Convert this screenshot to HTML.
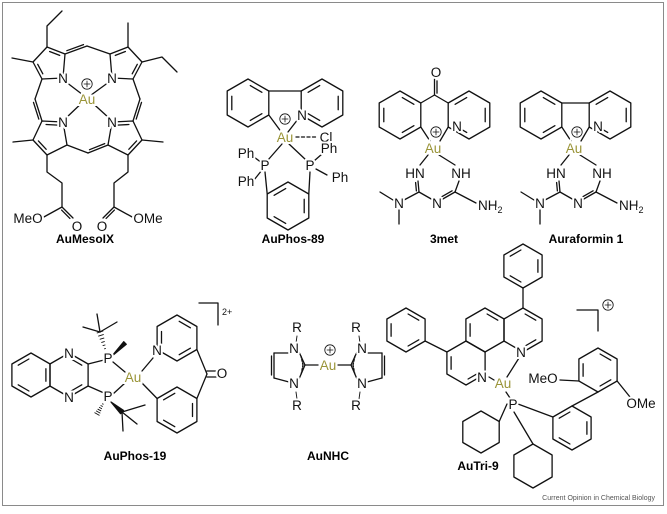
<!DOCTYPE html>
<html><head><meta charset="utf-8">
<style>
html,body{margin:0;padding:0;background:#fff;}
svg{display:block;}
text{font-family:"Liberation Sans",Arial,sans-serif;}
.a{font-size:13.5px;fill:#111;stroke:#fff;stroke-width:4px;paint-order:stroke;stroke-linejoin:round;}
.au{font-size:13.5px;fill:#9a9438;stroke:#fff;stroke-width:4px;paint-order:stroke;}
.lb{font-size:12px;font-weight:bold;fill:#000;}
.sm{font-size:9px;fill:#111;}
</style></head><body>
<svg id="s" width="667" height="514" viewBox="0 0 667 514" xmlns="http://www.w3.org/2000/svg">
<rect x="2.5" y="2.5" width="661" height="503" fill="#fff" stroke="#8a8a8a" stroke-width="1"/>
<g id="b" stroke="#111" stroke-width="1.3" fill="none" stroke-linecap="round" stroke-linejoin="round"></g>
<g id="t">
<text class="a" x="63" y="83" text-anchor="middle">N</text>
<text class="a" x="112" y="83" text-anchor="middle">N</text>
<text class="a" x="63" y="127" text-anchor="middle">N</text>
<text class="a" x="112" y="127" text-anchor="middle">N</text>
<text class="au" x="87" y="104" text-anchor="middle">Au</text>
<text class="a" x="28" y="223" text-anchor="middle">MeO</text>
<text class="a" x="77" y="231" text-anchor="middle">O</text>
<text class="a" x="102" y="231" text-anchor="middle">O</text>
<text class="a" x="148" y="223" text-anchor="middle">OMe</text>
<text class="lb" x="85" y="243" text-anchor="middle">AuMesoIX</text>
<text class="a" x="302" y="120" text-anchor="middle">N</text>
<text class="au" x="285" y="142" text-anchor="middle">Au</text>
<text class="a" x="326" y="142" text-anchor="middle">Cl</text>
<text class="a" x="265" y="170" text-anchor="middle">P</text>
<text class="a" x="310" y="170" text-anchor="middle">P</text>
<text class="a" x="246" y="158" text-anchor="middle">Ph</text>
<text class="a" x="246" y="186" text-anchor="middle">Ph</text>
<text class="a" x="329" y="153" text-anchor="middle">Ph</text>
<text class="a" x="340" y="182" text-anchor="middle">Ph</text>
<text class="lb" x="293" y="243" text-anchor="middle">AuPhos-89</text>
<text class="a" x="436" y="77" text-anchor="middle">O</text>
<text class="a" x="457" y="131" text-anchor="middle">N</text>
<text class="au" x="433" y="153" text-anchor="middle">Au</text>
<text class="a" x="415" y="178" text-anchor="middle">HN</text>
<text class="a" x="461" y="178" text-anchor="middle">NH</text>
<text class="a" x="437" y="208" text-anchor="middle">N</text>
<text class="a" x="399" y="208" text-anchor="middle">N</text>
<text class="a" x="482" y="210" text-anchor="start" dx="-4">NH<tspan font-size="9" dy="3">2</tspan></text>
<text class="lb" x="444" y="243" text-anchor="middle">3met</text>
<text class="a" x="598" y="131" text-anchor="middle">N</text>
<text class="au" x="574" y="153" text-anchor="middle">Au</text>
<text class="a" x="556" y="178" text-anchor="middle">HN</text>
<text class="a" x="602" y="178" text-anchor="middle">NH</text>
<text class="a" x="578" y="208" text-anchor="middle">N</text>
<text class="a" x="540" y="208" text-anchor="middle">N</text>
<text class="a" x="623" y="210" text-anchor="start" dx="-4">NH<tspan font-size="9" dy="3">2</tspan></text>
<text class="lb" x="586" y="243" text-anchor="middle">Auraformin 1</text>
<text class="a" x="69" y="358" text-anchor="middle">N</text>
<text class="a" x="69" y="402" text-anchor="middle">N</text>
<text class="a" x="108" y="363" text-anchor="middle">P</text>
<text class="a" x="108" y="401" text-anchor="middle">P</text>
<text class="au" x="133" y="382" text-anchor="middle">Au</text>
<text class="a" x="157" y="355" text-anchor="middle">N</text>
<text class="a" x="222" y="378" text-anchor="middle">O</text>
<text class="sm" x="222" y="315">2+</text>
<text class="lb" x="135" y="460" text-anchor="middle">AuPhos-19</text>
<text class="a" x="297" y="332" text-anchor="middle">R</text>
<text class="a" x="297" y="410" text-anchor="middle">R</text>
<text class="a" x="356" y="332" text-anchor="middle">R</text>
<text class="a" x="356" y="410" text-anchor="middle">R</text>
<text class="a" x="294" y="353" text-anchor="middle">N</text>
<text class="a" x="294" y="388" text-anchor="middle">N</text>
<text class="a" x="362" y="353" text-anchor="middle">N</text>
<text class="a" x="362" y="388" text-anchor="middle">N</text>
<text class="au" x="328" y="370" text-anchor="middle">Au</text>
<text class="lb" x="328" y="460" text-anchor="middle">AuNHC</text>
<text class="a" x="521" y="357" text-anchor="middle">N</text>
<text class="a" x="482" y="382" text-anchor="middle">N</text>
<text class="au" x="503" y="388" text-anchor="middle">Au</text>
<text class="a" x="513" y="409" text-anchor="middle">P</text>
<text class="a" x="543" y="383" text-anchor="middle">MeO</text>
<text class="a" x="641" y="408" text-anchor="middle">OMe</text>
<text class="lb" x="478" y="470" text-anchor="middle">AuTri-9</text>
<text x="655" y="500" text-anchor="end" font-size="7" fill="#555">Current Opinion in Chemical Biology</text>
</g>
</svg>
<script>
(function(){
var B=[];
function L(a,b,c,d,ex){B.push('<line x1="'+a.toFixed(1)+'" y1="'+b.toFixed(1)+'" x2="'+c.toFixed(1)+'" y2="'+d.toFixed(1)+'"'+(ex||'')+'/>');}
function PL(p){var s=p.map(function(q){return q[0].toFixed(1)+','+q[1].toFixed(1)}).join(' ');B.push('<polyline points="'+s+'"/>');}
function inner(p,q,c,f,t){f=f||0.78;t=t||0.14;
 var a=[c[0]+(p[0]-c[0])*f,c[1]+(p[1]-c[1])*f],b=[c[0]+(q[0]-c[0])*f,c[1]+(q[1]-c[1])*f];
 var dx=b[0]-a[0],dy=b[1]-a[1];L(a[0]+dx*t,a[1]+dy*t,b[0]-dx*t,b[1]-dy*t);}
function ring(pts,dbl){var n=pts.length,cx=0,cy=0;pts.forEach(function(p){cx+=p[0];cy+=p[1]});cx/=n;cy/=n;
 B.push('<polygon points="'+pts.map(function(q){return q[0].toFixed(1)+','+q[1].toFixed(1)}).join(' ')+'"/>');
 (dbl||[]).forEach(function(i){inner(pts[i],pts[(i+1)%n],[cx,cy]);});return pts;}
function hex(cx,cy,r,dbl,rot){rot=rot||0;var p=[];for(var k=0;k<6;k++){var a=(-90+60*k+rot)*Math.PI/180;p.push([cx+r*Math.cos(a),cy+r*Math.sin(a)]);}return ring(p,dbl);}
function D(a,b,c,d,o){
 L(a,b,c,d);var dx=c-a,dy=d-b,l=Math.hypot(dx,dy),nx=-dy/l*o,ny=dx/l*o;
 L(a+nx+dx*0.12,b+ny+dy*0.12,c+nx-dx*0.12,d+ny-dy*0.12);}
function circ(x,y){B.push('<circle cx="'+x+'" cy="'+y+'" r="5.2" stroke-width="0.8"/>');L(x-3,y,x+3,y,' stroke-width="0.8"');L(x,y-3,x,y+3,' stroke-width="0.8"');}
function hash(a,b,c,d,w){var n=6;for(var i=1;i<=n;i++){var t=i/n,x=a+(c-a)*t,y=b+(d-b)*t,dx=c-a,dy=d-b,l=Math.hypot(dx,dy),hw=w*t;L(x-dy/l*hw,y+dx/l*hw,x+dy/l*hw,y-dx/l*hw,' stroke-width="0.9"');}}
function wedge(a,b,c,d,w){var dx=c-a,dy=d-b,l=Math.hypot(dx,dy),nx=-dy/l*w,ny=dx/l*w;B.push('<polygon fill="#111" points="'+a+','+b+' '+(c+nx)+','+(d+ny)+' '+(c-nx)+','+(d-ny)+'"/>');}

function pyr(N,A1,B1,B2,A2,dblIdx){var p=[N,A1,B1,B2,A2];ring(p,dblIdx);return p;}
pyr([63,78],[65,54],[47,47],[33,62],[42,79],[1,3]);
pyr([112,78],[110,54],[128,47],[142,62],[133,79],[1,3]);
pyr([63,122],[67,145],[47,155],[33,140],[42,121],[2,4]);
pyr([112,122],[108,145],[128,155],[142,140],[133,121],[2,4]);
D(65,54,87,46,-2.5);L(87,46,110,54);
L(42,79,35,99);D(35,99,42,121,2.5);
L(133,79,140,99);D(140,99,133,121,-2.5);
L(67,145,88,153);D(88,153,108,145,-2.5);
L(87,98,66,82);L(87,98,109,82);L(87,98,66,118);L(87,98,109,118);
circ(87,84);
PL([[47,47],[47,26],[62,11]]);L(33,62,12,58);
L(128,47,128,23);PL([[142,62],[162,57],[177,72]]);
L(33,140,13,142);L(142,140,163,142);
PL([[47,155],[47,172],[62,183],[62,207],[42,218]]);D(62,207,73,218,2.5);
PL([[128,155],[128,172],[114,183],[114,207],[134,218]]);D(114,207,103,218,-2.5);

var b1=hex(248,103,24,[0,2,4]);var py=hex(322,103,24,[1,3,5]);
L(b1[1][0],b1[1][1],py[5][0],py[5][1]);
L(b1[2][0],b1[2][1],285,137);L(py[4][0],py[4][1],288,132);
circ(285,119);
L(296,137,318,137,' stroke-dasharray="3,2.5"');
L(282,144,268,160);L(289,144,306,160);
var b2=hex(288,206,24,[1,3,5]);
L(265,172,b2[5][0],b2[5][1]);L(310,172,b2[1][0],b2[1][1]);
L(262,163,254,157);L(262,170,254,180);L(314,161,322,154);L(316,169,327,175);

function gua(dx,carbonyl){
 var b=hex(400+dx,115,24,[0,2,4]);var p=hex(469+dx,115,24,[1,3,5]);
 if(carbonyl){L(b[1][0],b[1][1],434.5+dx,95);L(434.5+dx,95,p[5][0],p[5][1]);D(434.5+dx,95,434.5+dx,79,2.5);}
 else{L(b[1][0],b[1][1],p[5][0],p[5][1]);}
 L(b[2][0],b[2][1],430+dx,141);L(p[4][0],p[4][1],440+dx,141);
 circ(436+dx,132);
 L(428+dx,155,420+dx,165);L(439+dx,155,455+dx,165);
 D(418+dx,181,419+dx,192,2.5);L(419+dx,192,433+dx,200);D(441+dx,200,455+dx,192,-2.5);
 L(455+dx,192,459+dx,181);L(455+dx,192,476+dx,203);
 L(419+dx,192,404+dx,200);L(393+dx,200,380+dx,192);L(399+dx,210,399+dx,224);
}
gua(0,true);gua(141,false);

hex(31,375,22,[1,3,5]);var pz=hex(69,375,22,[0,2]);
L(pz[1][0],pz[1][1],104,360);L(pz[2][0],pz[2][1],104,393);
L(113,362,125,372);L(113,394,125,383);
hash(106,352,100,332,3);L(100,332,83,327);L(100,332,97,314);L(100,332,117,322);
wedge(112,356,125,343,1.8);
hash(104,402,97,414,2.5);wedge(111,402,122,412,2.2);
L(122,412,145,405);L(122,412,137,424);L(122,412,123,431);
var p19=hex(177,338,23,[0,2,4]);var z19=hex(177,410,23,[1,3,5]);
L(142,371,153,358);L(z19[5][0],z19[5][1],142,383);
L(p19[2][0],p19[2][1],207,374);L(z19[1][0],z19[1][1],207,374);
L(207,371,216,371);L(207,377,216,377);
PL([[199,303],[218,303],[218,325]]);

function imid(s){
 function X(x){return s>0?x:656-x;}
 L(X(289),353,X(274),353);D(X(274),353,X(274),378,s*2.5);L(X(274),378,X(289),382);
 L(X(299),352,X(305),365);L(X(305),365,X(299),379);
 L(X(301),356,X(303),365,' stroke-dasharray="2,1.5"');L(X(303),365,X(301),375,' stroke-dasharray="2,1.5"');
 L(X(305),365,X(318),365);
 L(X(296),343,X(297),336,' stroke-width="0.9"');L(X(296),392,X(297),399,' stroke-width="0.9"');
}
imid(1);imid(-1);circ(330,350);

var rR=hex(523,330,22,[0,2]);var rC=hex(485,330,22,[0]);var rL=hex(466,363,22,[2,4]);
inner(rC[4],rC[5],[485,330]);
var phL=hex(406,330,22,[0,2,4]);L(phL[2][0],phL[2][1],rL[5][0],rL[5][1]);
var phT=hex(523,266,22,[1,3,5]);L(523,288,523,308);
L(519,358,507,377);L(489,377,494,380);L(506,392,510,398);
var cy1=hex(481,432,21,[]);L(507,404,cy1[1][0],cy1[1][1]);
var cy2=hex(533,466,22,[]);L(514,412,533,444);
var lb=hex(572,428,22,[1,3,5]);L(518,404,lb[5][0],lb[5][1]);
var ub=hex(598,370,22,[0,2,4]);L(lb[0][0],lb[0][1],ub[3][0],ub[3][1]);
L(ub[4][0],ub[4][1],560,380);L(ub[2][0],ub[2][1],630,397);
PL([[577,310],[598,310],[598,331]]);circ(608,305);

document.getElementById('b').innerHTML=B.join('');
})();
</script>
</body></html>
